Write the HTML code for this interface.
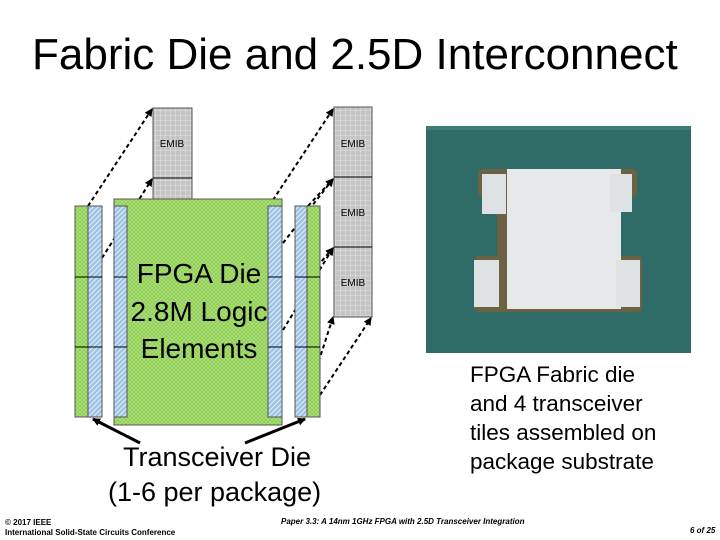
<!DOCTYPE html>
<html><head><meta charset="utf-8"><style>
body{margin:0;width:720px;height:540px;background:#fff;overflow:hidden;position:relative;font-family:"Liberation Sans",sans-serif}
.t{position:absolute;white-space:nowrap;color:#000}
</style></head><body>
<div class="t" style="left:32px;top:30px;font-size:44px;">Fabric Die and 2.5D Interconnect</div>
<svg width="720" height="540" style="position:absolute;left:0;top:0">
<defs>
<pattern id="g" width="4" height="4" patternUnits="userSpaceOnUse"><rect width="4" height="4" fill="#8ccd4a"/><path d="M0 0L4 4M4 0L0 4" stroke="#bde59a" stroke-width="0.6"/></pattern>
<pattern id="b" width="5" height="5" patternUnits="userSpaceOnUse"><rect width="5" height="5" fill="#9dc3e6"/><path d="M0 5L5 0M-1 1L1 -1M4 6L6 4" stroke="#e4eef8" stroke-width="1"/></pattern>
<pattern id="e" width="5" height="5" patternUnits="userSpaceOnUse"><rect width="5" height="5" fill="#c4c4c4"/><path d="M0 0H5M0 0V5" stroke="#ececec" stroke-width="0.8"/></pattern>
<marker id="a" markerWidth="8" markerHeight="8" refX="7" refY="4" orient="auto" markerUnits="userSpaceOnUse"><path d="M0 0L8 4L0 8z" fill="#000"/></marker>
</defs>
<g stroke="#000" stroke-width="2" stroke-dasharray="4,3" fill="none" marker-end="url(#a)">
<line x1="88" y1="206" x2="152" y2="109"/>
<line x1="102" y1="258" x2="152" y2="179"/>
<line x1="269" y1="206" x2="333" y2="109"/>
<line x1="308" y1="206" x2="333" y2="179"/>
<line x1="283" y1="243" x2="333" y2="179"/>
<line x1="308" y1="277" x2="333" y2="248"/>
<line x1="283" y1="330" x2="333" y2="248"/>
<line x1="308" y1="395" x2="333" y2="317"/>
<line x1="320" y1="395" x2="371" y2="318"/>
</g>
<rect x="153" y="108" width="39" height="92" fill="url(#e)" stroke="#555"/>
<line x1="153" y1="178" x2="192" y2="178" stroke="#000"/>
<rect x="334" y="107" width="38" height="210" fill="url(#e)" stroke="#555"/>
<line x1="334" y1="177" x2="372" y2="177" stroke="#000"/>
<line x1="334" y1="247" x2="372" y2="247" stroke="#000"/>
<g font-size="10" text-anchor="middle" fill="#000"><text x="172" y="147">EMIB</text><text x="353" y="147">EMIB</text><text x="353" y="216">EMIB</text><text x="353" y="286">EMIB</text></g>
<rect x="114" y="199" width="168" height="226" fill="url(#g)" stroke="#555"/>
<rect x="75" y="206" width="27" height="211" fill="url(#g)" stroke="#555"/>
<rect x="88" y="206" width="14" height="211" fill="url(#b)" stroke="#555"/>
<rect x="114" y="206" width="13" height="211" fill="url(#b)" stroke="#555"/>
<rect x="268" y="206" width="14" height="211" fill="url(#b)" stroke="#555"/>
<rect x="295" y="206" width="25" height="211" fill="url(#g)" stroke="#555"/>
<rect x="295" y="206" width="12" height="211" fill="url(#b)" stroke="#555"/>
<g stroke="#000"><line x1="75" y1="277" x2="102" y2="277"/><line x1="75" y1="347" x2="102" y2="347"/>
<line x1="114" y1="277" x2="127" y2="277"/><line x1="114" y1="347" x2="127" y2="347"/>
<line x1="268" y1="277" x2="282" y2="277"/><line x1="268" y1="347" x2="282" y2="347"/>
<line x1="295" y1="277" x2="320" y2="277"/><line x1="295" y1="347" x2="320" y2="347"/></g>
<g font-size="28" text-anchor="middle" fill="#000"><text x="199" y="283">FPGA Die</text><text x="199" y="321">2.8M Logic</text><text x="199" y="358">Elements</text></g>
<g stroke="#000" stroke-width="3" marker-end="url(#a)"><line x1="140" y1="443" x2="93" y2="419"/><line x1="245" y1="443" x2="305" y2="419"/></g>
<rect x="426" y="126" width="265" height="227" fill="#2f6b67"/>
<rect x="426" y="126" width="265" height="4" fill="#3a7c78"/>
<g fill="#6b6244">
<rect x="478" y="169" width="159" height="28" rx="5"/>
<rect x="474" y="256" width="168" height="56" rx="5"/>
<rect x="497" y="169" width="107" height="143"/>
</g>
<rect x="507" y="169" width="114" height="140" fill="#e6e8ea"/>
<rect x="482" y="174" width="24" height="40" fill="#dfe2e4"/>
<rect x="610" y="174" width="22" height="38" fill="#dfe2e4"/>
<rect x="474" y="260" width="25" height="47" fill="#dfe2e4"/>
<rect x="616" y="260" width="24" height="47" fill="#dfe2e4"/>
</svg>
<div class="t" style="left:123px;top:442px;font-size:27px;">Transceiver Die</div>
<div class="t" style="left:108px;top:477px;font-size:27px;">(1-6 per package)</div>
<div class="t" style="left:470px;top:360px;font-size:22.5px;line-height:29px;">FPGA Fabric die<br>and 4 transceiver<br>tiles assembled on<br>package substrate</div>
<div class="t" style="left:5px;top:518px;font-size:8px;font-weight:bold;line-height:10px;">© 2017 IEEE<br>International Solid-State Circuits Conference</div>
<div class="t" style="left:281px;top:517px;font-size:8px;font-weight:bold;font-style:italic;">Paper 3.3: A 14nm 1GHz FPGA with 2.5D Transceiver Integration</div>
<div class="t" style="left:690px;top:526px;font-size:8px;font-weight:bold;font-style:italic;">6 of 25</div>
</body></html>
